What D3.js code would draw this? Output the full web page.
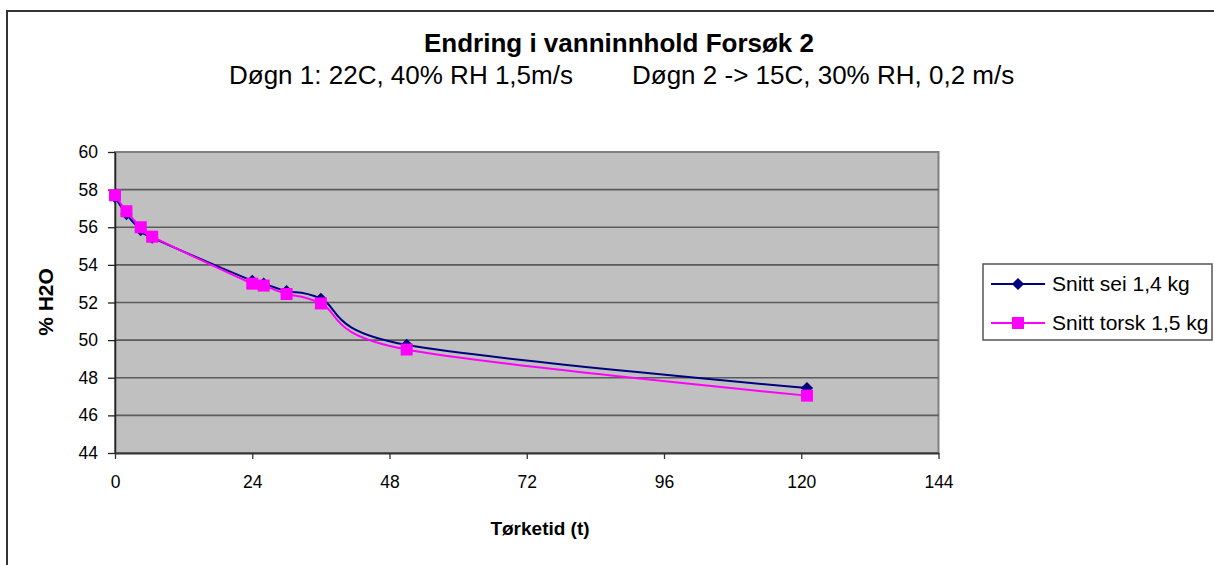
<!DOCTYPE html>
<html>
<head>
<meta charset="utf-8">
<script src="https://cdn.jsdelivr.net/npm/d3@7"></script>
<style>
  body { margin: 0; background: #fff; }
  svg text { font-family: "Liberation Sans", Arial, sans-serif; fill: #000; }
</style>
</head>
<body>
<div id="chart"></div>
<script>
// ========================
// DATA
// ========================
const hours = [0, 2, 4.5, 6.5, 24, 26, 30, 36, 51, 121];
const seiValues = [57.6, 56.7, 55.85, 55.45, 53.15, 53.0, 52.6, 52.2, 49.75, 47.45];
const torskValues = [57.7, 56.85, 56.0, 55.5, 53.0, 52.9, 52.45, 51.95, 49.5, 47.05];
const seriesNames = ["Snitt sei 1,4 kg", "Snitt torsk 1,5 kg"];
const xTicks = [0, 24, 48, 72, 96, 120, 144];
const yTicks = [44, 46, 48, 50, 52, 54, 56, 58, 60];
const titleText = "Endring i vanninnhold Forsøk 2";
const subtitleParts = ["Døgn 1: 22C, 40% RH 1,5m/s", "Døgn 2 -> 15C, 30% RH, 0,2 m/s"];
const xTitle = "Tørketid (t)";
const yTitle = "% H2O";

// ========================
// LAYOUT
// ========================
const width = 1214, height = 565;
const plot = { left: 115, right: 938.5, top: 152, bottom: 453 };

const svg = d3.select("#chart").append("svg")
    .attr("width", width)
    .attr("height", height);

// outer chart border (runs off the right/bottom of the picture)
svg.append("path")
    .attr("d", `M7,${height} L7,11 L${width},11`)
    .attr("fill", "none")
    .attr("stroke", "#333")
    .attr("stroke-width", 2);

const x = d3.scaleLinear().domain([0, 144]).range([plot.left, plot.right]);
const y = d3.scaleLinear().domain([44, 60]).range([plot.bottom, plot.top]);

// plot background
svg.append("rect")
    .attr("x", plot.left).attr("y", plot.top)
    .attr("width", plot.right - plot.left)
    .attr("height", plot.bottom - plot.top)
    .attr("fill", "#c0c0c0")
    .attr("stroke", "#808080")
    .attr("stroke-width", 2);

// horizontal gridlines
svg.append("g")
    .selectAll("line")
    .data(yTicks.slice(1, -1))
    .enter()
    .append("line")
    .attr("x1", plot.left).attr("x2", plot.right)
    .attr("y1", d => y(d)).attr("y2", d => y(d))
    .attr("stroke", "#5a5a5a")
    .attr("stroke-width", 1.7);

// y axis
const yAxis = svg.append("g")
    .attr("transform", `translate(${plot.left},0)`)
    .call(d3.axisLeft(y).tickValues(yTicks).tickSize(7).tickPadding(10).tickSizeOuter(0));
yAxis.select(".domain").attr("stroke", "#222").attr("stroke-width", 1.5);
yAxis.selectAll(".tick line").attr("stroke", "#222").attr("stroke-width", 1.3);
yAxis.selectAll(".tick text")
    .attr("font-size", "17.5px")
    .attr("font-family", "Liberation Sans, Arial, sans-serif")
    .attr("fill", "#000");

// x axis
const xAxis = svg.append("g")
    .attr("transform", `translate(0,${plot.bottom})`)
    .call(d3.axisBottom(x).tickValues(xTicks).tickSize(6).tickPadding(17).tickSizeOuter(0));
xAxis.select(".domain").attr("stroke", "#333").attr("stroke-width", 2);
xAxis.selectAll(".tick line").attr("stroke", "#333").attr("stroke-width", 1.3);
xAxis.selectAll(".tick text")
    .attr("font-size", "17.5px")
    .attr("font-family", "Liberation Sans, Arial, sans-serif")
    .attr("fill", "#000");

// ========================
// SERIES
// ========================
const seiData = hours.map((h, i) => ({ h, v: seiValues[i] }));
const torskData = hours.map((h, i) => ({ h, v: torskValues[i] }));

const line = d3.line()
    .x(d => x(d.h))
    .y(d => y(d.v))
    .curve(d3.curveCardinal.tension(0));

svg.append("path")
    .datum(seiData)
    .attr("d", line)
    .attr("fill", "none")
    .attr("stroke", "#000080")
    .attr("stroke-width", 2);

svg.append("path")
    .datum(torskData)
    .attr("d", line)
    .attr("fill", "none")
    .attr("stroke", "#ff00ff")
    .attr("stroke-width", 2);

const diamond = d3.symbol().type(d3.symbolDiamond2).size(95);

svg.append("g")
    .selectAll("path")
    .data(seiData)
    .enter()
    .append("path")
    .attr("d", diamond)
    .attr("transform", d => `translate(${x(d.h)},${y(d.v)})`)
    .attr("fill", "#000080");

svg.append("g")
    .selectAll("rect")
    .data(torskData)
    .enter()
    .append("rect")
    .attr("x", d => x(d.h) - 6)
    .attr("y", d => y(d.v) - 6)
    .attr("width", 12)
    .attr("height", 12)
    .attr("fill", "#ff00ff");

// ========================
// TITLES
// ========================
svg.append("text")
    .attr("x", 619).attr("y", 52)
    .attr("text-anchor", "middle")
    .attr("font-size", "26px")
    .attr("font-weight", "bold")
    .text(titleText);

svg.append("text")
    .attr("x", 229).attr("y", 84)
    .attr("font-size", "26px")
    .text(subtitleParts[0]);

svg.append("text")
    .attr("x", 632).attr("y", 84)
    .attr("font-size", "26px")
    .text(subtitleParts[1]);

svg.append("text")
    .attr("x", 540).attr("y", 535)
    .attr("text-anchor", "middle")
    .attr("font-size", "19px")
    .attr("font-weight", "bold")
    .text(xTitle);

svg.append("text")
    .attr("transform", "translate(53,302) rotate(-90)")
    .attr("text-anchor", "middle")
    .attr("font-size", "21px")
    .attr("font-weight", "bold")
    .text(yTitle);

// ========================
// LEGEND
// ========================
const legend = svg.append("g");
legend.append("rect")
    .attr("x", 983).attr("y", 264)
    .attr("width", 229).attr("height", 76)
    .attr("fill", "#fff")
    .attr("stroke", "#555")
    .attr("stroke-width", 1.5);

const legendRows = [
    { name: seriesNames[0], color: "#000080", shape: "diamond", cy: 284 },
    { name: seriesNames[1], color: "#ff00ff", shape: "square", cy: 323 }
];

legendRows.forEach(r => {
    legend.append("line")
        .attr("x1", 991).attr("x2", 1045)
        .attr("y1", r.cy).attr("y2", r.cy)
        .attr("stroke", r.color)
        .attr("stroke-width", 2);
    if (r.shape === "diamond") {
        legend.append("path")
            .attr("d", diamond)
            .attr("transform", `translate(1018,${r.cy})`)
            .attr("fill", r.color);
    } else {
        legend.append("rect")
            .attr("x", 1012).attr("y", r.cy - 6)
            .attr("width", 12).attr("height", 12)
            .attr("fill", r.color);
    }
    legend.append("text")
        .attr("x", 1052).attr("y", r.cy + 7)
        .attr("font-size", "21px")
        .text(r.name);
});
</script>
</body>
</html>
